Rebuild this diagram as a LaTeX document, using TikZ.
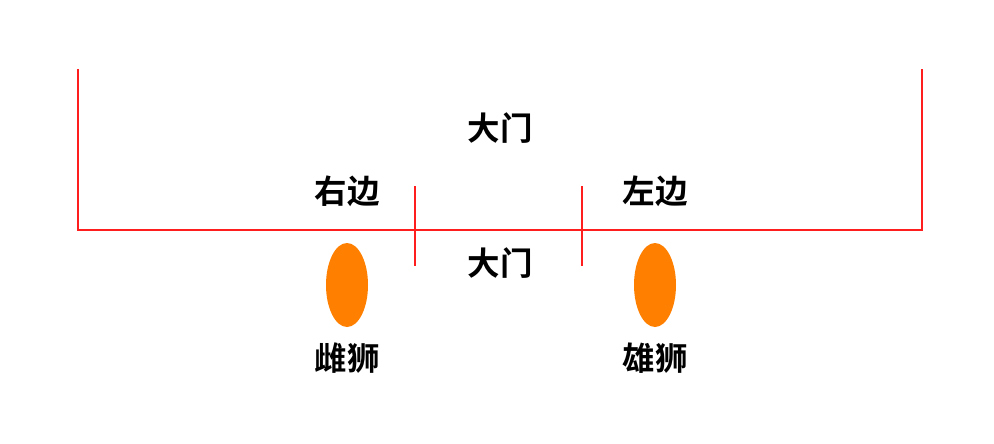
\documentclass[tikz,border=0pt]{standalone}
\usepackage{fontspec}
\usetikzlibrary{shapes.geometric}
\newfontfamily\cjk{Noto Sans CJK SC Bold}
\definecolor{gatered}{RGB}{255,30,30}
\definecolor{lionorange}{RGB}{255,128,0}
\begin{document}
\begin{tikzpicture}[x=1pt,y=-1pt,
  wall/.style={draw=gatered,line width=2.6pt},
  lbl/.style={font=\cjk\fontsize{32.5}{32.5}\selectfont,inner sep=0pt,anchor=center},
  lion/.style={ellipse,fill=lionorange,minimum width=42pt,minimum height=84pt,inner sep=0pt}]
\useasboundingbox (0,0) rectangle (994,444);
\coordinate (tl) at (78,69);
\coordinate (bl) at (78,230);
\coordinate (tr) at (922,69);
\coordinate (br) at (922,230);
\coordinate (t1a) at (415,186);
\coordinate (t1b) at (415,266);
\coordinate (t2a) at (582,186);
\coordinate (t2b) at (582,266);
\draw[wall] (tl) -- (bl) -- (br) -- (tr);
\draw[wall] (t1a) -- (t1b);
\draw[wall] (t2a) -- (t2b);
\node[lbl] (gate1) at (500,128) {大门};
\node[lbl] (right) at (347,191) {右边};
\node[lbl] (left) at (655,191) {左边};
\node[lbl] (gate2) at (500,263) {大门};
\node[lion] (l1) at (347,285) {};
\node[lion] (l2) at (655,285) {};
\node[lbl] (female) at (347,358) {雌狮};
\node[lbl] (male) at (655,358) {雄狮};
\end{tikzpicture}
\end{document}
